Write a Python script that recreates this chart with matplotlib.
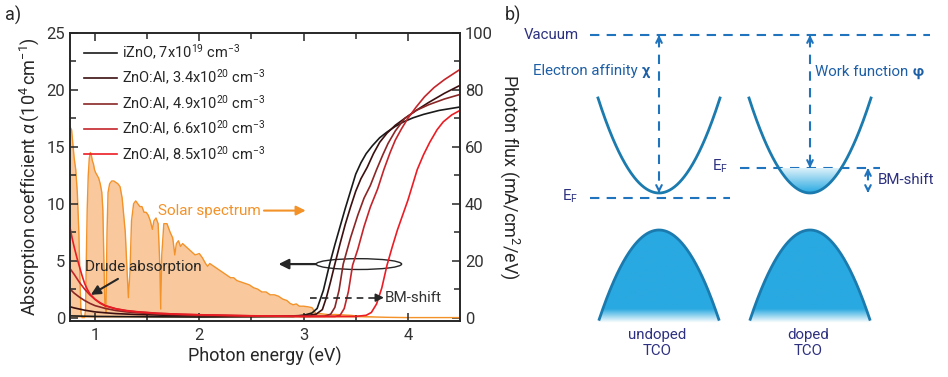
import numpy as np
import matplotlib
matplotlib.use("Agg")
import matplotlib.pyplot as plt
from matplotlib.patches import Ellipse, Polygon
from matplotlib.colors import LinearSegmentedColormap

plt.rcParams['font.family'] = ['Roboto', 'DejaVu Sans']
plt.rcParams['mathtext.fontset'] = 'custom'
plt.rcParams['mathtext.rm'] = 'Roboto'
plt.rcParams['mathtext.it'] = 'Roboto:italic'
plt.rcParams['mathtext.bf'] = 'Roboto:bold'

# ---- solar spectrum (photon flux, mA/cm2/eV) ----
sunE = [0.76, 0.775, 0.79, 0.80, 0.815, 0.83, 0.845, 0.855, 0.865, 0.875, 0.90, 0.91,
        0.915, 0.925, 0.935, 0.945, 0.955, 0.965, 0.975, 0.985, 0.995, 1.005, 1.02,
        1.035, 1.05, 1.065, 1.075, 1.085, 1.095, 1.105, 1.115, 1.125, 1.14, 1.16, 1.18,
        1.20, 1.22, 1.24, 1.26, 1.275, 1.29, 1.305, 1.32, 1.335, 1.35, 1.37, 1.39, 1.41,
        1.43, 1.45, 1.47, 1.49, 1.51, 1.53, 1.55, 1.565, 1.585, 1.605, 1.62, 1.63, 1.64,
        1.66, 1.69, 1.72, 1.745, 1.765, 1.78, 1.80, 1.82, 1.84, 1.87, 1.90, 1.93, 1.96,
        2.0, 2.03, 2.06, 2.08, 2.10, 2.14, 2.18, 2.22, 2.26, 2.30, 2.33, 2.36, 2.40, 2.44,
        2.48, 2.52, 2.56, 2.60, 2.64, 2.68, 2.72, 2.76, 2.80, 2.84, 2.87, 2.90, 2.93,
        2.96, 3.00, 3.04, 3.08, 3.10, 3.12, 3.16, 3.20, 3.25, 3.30, 3.35, 3.40, 3.45,
        3.50, 3.55, 3.60, 3.70, 3.80, 3.90, 4.00, 4.5]
sunF = [67, 66, 60, 56, 52, 44, 30, 14, 2, 0, 0, 3,
        18, 38, 50, 56, 58, 57, 55, 54, 52, 51, 50,
        49, 47, 44, 38, 20, 4, 2, 30, 44, 47, 48, 48,
        47.5, 47, 46, 42, 36, 30, 18, 7, 16, 34, 40, 41, 40,
        39, 39, 37, 37, 36, 34, 31, 34, 35, 33, 20, 3, 22,
        33, 33, 30, 28, 22, 26, 27, 25, 26, 25, 24, 23, 22,
        22.5, 21, 19, 18, 19, 18, 17, 16, 15, 14, 14, 13, 12.5, 12,
        11.5, 10.5, 10, 9, 9, 8, 8, 7.5, 6.5, 6, 5, 4.5, 4.8,
        4, 4, 3.8, 3.5, 2.5, 1.2, 1.4, 1.2, 1.0, 1.1, 1.0, 0.9, 0.8,
        0.6, 0.5, 0.35, 0.2, 0.1, 0.05, 0, 0]

# ---- absorption coefficient (1e4 cm-1) ----
E_izno = [0.76, 1.0, 1.5, 2.0, 2.5, 2.9, 3.0, 3.08, 3.13, 3.19, 3.25, 3.30, 3.35, 3.40,
          3.45, 3.50, 3.55, 3.60, 3.66, 3.73, 3.80, 3.88, 3.96, 4.05, 4.15, 4.3, 4.5]
a_izno = [0.15, 0.1, 0.07, 0.05, 0.07, 0.1, 0.2, 0.4, 0.8, 2.4, 4.7, 6.4, 8.0, 9.6,
          11.1, 12.6, 13.6, 14.4, 15.1, 15.8, 16.3, 16.8, 17.2, 17.55, 17.85, 18.2, 18.5]

E_34 = [0.76, 0.8, 0.85, 0.9, 1.0, 1.1, 1.2, 1.4, 1.7, 2.0, 2.5, 2.9, 3.05, 3.12, 3.18,
        3.22, 3.26, 3.30, 3.35, 3.40, 3.45, 3.50, 3.55, 3.61, 3.67, 3.73, 3.80, 3.88,
        3.97, 4.08, 4.2, 4.35, 4.5]
a_34 = [0.95, 0.85, 0.75, 0.65, 0.5, 0.42, 0.35, 0.27, 0.2, 0.16, 0.13, 0.15, 0.2, 0.3,
        0.7, 1.8, 3.2, 4.7, 6.5, 8.2, 9.7, 11.1, 12.2, 13.2, 14.4, 15.4, 16.2, 16.9,
        17.5, 18.2, 18.9, 19.7, 20.4]

E_49 = [0.76, 0.8, 0.85, 0.9, 0.95, 1.0, 1.1, 1.2, 1.3, 1.4, 1.6, 1.8, 2.0, 2.5, 3.0,
        3.2, 3.26, 3.30, 3.34, 3.38, 3.45, 3.52, 3.58, 3.64, 3.70, 3.76, 3.81, 3.88,
        3.97, 4.08, 4.2, 4.35, 4.5]
a_49 = [2.5, 2.15, 1.8, 1.5, 1.25, 1.05, 0.8, 0.62, 0.5, 0.42, 0.32, 0.25, 0.2, 0.13, 0.1,
        0.12, 0.3, 0.9, 2.4, 4.7, 7.0, 9.0, 10.5, 11.6, 13.0, 14.3, 15.3, 16.4,
        17.5, 18.2, 18.7, 19.2, 19.6]

E_66 = [0.76, 0.8, 0.85, 0.9, 0.95, 1.0, 1.05, 1.1, 1.2, 1.3, 1.4, 1.6, 1.8, 2.0, 2.5,
        3.0, 3.3, 3.35, 3.39, 3.43, 3.47, 3.52, 3.58, 3.64, 3.71, 3.77, 3.83, 3.88, 3.94,
        4.0, 4.08, 4.16, 4.25, 4.35, 4.5]
a_66 = [4.3, 3.8, 3.1, 2.5, 2.0, 1.6, 1.3, 1.05, 0.78, 0.62, 0.52, 0.38, 0.3, 0.25, 0.16,
        0.11, 0.1, 0.2, 0.8, 2.3, 4.6, 6.0, 8.0, 9.7, 11.3, 13.0, 14.5, 15.6, 16.6,
        17.5, 18.5, 19.4, 20.2, 20.9, 21.8]

E_85 = [0.76, 0.78, 0.8, 0.825, 0.85, 0.875, 0.9, 0.925, 0.95, 1.0, 1.05, 1.1, 1.2, 1.3,
        1.4, 1.6, 1.8, 2.0, 2.5, 3.0, 3.5, 3.6, 3.65, 3.70, 3.75, 3.80, 3.85, 3.90, 3.95,
        4.0, 4.05, 4.09, 4.15, 4.21, 4.28, 4.34, 4.42, 4.5]
a_85 = [7.9, 7.0, 6.2, 5.3, 4.5, 3.7, 3.0, 2.5, 2.1, 1.6, 1.25, 1.02, 0.76, 0.6,
        0.5, 0.37, 0.3, 0.24, 0.15, 0.1, 0.1, 0.2, 0.45, 1.2, 2.6, 4.6, 6.2, 7.7, 9.0,
        10.3, 11.8, 13.0, 14.3, 15.4, 16.5, 17.2, 17.8, 18.2]

labels = ['iZnO, 7x10$^{19}$ cm$^{-3}$',
          'ZnO:Al, 3.4x10$^{20}$ cm$^{-3}$',
          'ZnO:Al, 4.9x10$^{20}$ cm$^{-3}$',
          'ZnO:Al, 6.6x10$^{20}$ cm$^{-3}$',
          'ZnO:Al, 8.5x10$^{20}$ cm$^{-3}$']
colors = ['#1a1a1a', '#3c0f10', '#8a2626', '#c4252b', '#ec1c24']
curves = [(E_izno, a_izno), (E_34, a_34), (E_49, a_49), (E_66, a_66), (E_85, a_85)]

orange = '#f39229'
peach = '#f9c99d'
ink = '#262626'

fig = plt.figure(figsize=(9.48, 3.77), dpi=100)

# ================= panel b (diagram, pixel coordinates) =================
bx = fig.add_axes([0, 0, 1, 1], zorder=0)
bx.set_xlim(0, 948)
bx.set_ylim(377, 0)
bx.axis('off')

navy = '#2e3180'
blue_txt = '#1d5fa6'
dash_c = '#1f74bd'
band_c = '#1b7aae'
fill_c = '#29a9e1'
cmap = LinearSegmentedColormap.from_list('band', ['#ffffff', fill_c])
fs_b = 10.8

vac_y = 35
ef_undoped = 198
ef_doped = 168
cb_min = 193
vb_max = 230
vb_bottom = 323
cb_top = 98
centers = [659, 810]
half_w = 61

def dashed(x0, x1, y0, y1):
    bx.plot([x0, x1], [y0, y1], color=dash_c, lw=1.5, dashes=(4.5, 3.5))

def head(x, y_tip, up):
    d = -4 if up else 4
    bx.annotate('', xy=(x, y_tip), xytext=(x, y_tip - d),
                arrowprops=dict(arrowstyle='->', color=dash_c, lw=1.5,
                                mutation_scale=10, shrinkA=0, shrinkB=0))

def dbl_arrow(x, y_top, y_bot):
    dashed(x, x, y_top + 3, y_bot - 3)
    head(x, y_top, True)
    head(x, y_bot, False)

bx.text(505, 15, 'b)', fontsize=13, color=ink, va='center')
bx.text(524, vac_y, 'Vacuum', fontsize=fs_b, color=navy, va='center')
dashed(590, 930, vac_y, vac_y)

# conduction bands
k_cb = (cb_min - cb_top) / half_w ** 2
for xc in centers:
    xs = np.linspace(xc - half_w, xc + half_w, 200)
    bx.plot(xs, cb_min - k_cb * (xs - xc) ** 2, color=band_c, lw=2.0, zorder=4)

# filled states in doped conduction band
xc = centers[1]
w = np.sqrt((cb_min - ef_doped) / k_cb)
xs = np.linspace(xc - w, xc + w, 100)
poly = Polygon(np.column_stack([xs, cb_min - k_cb * (xs - xc) ** 2]),
               closed=True, fc='none', ec='none')
bx.add_patch(poly)
g = np.linspace(0.1, 1.0, 60)[:, None]
im = bx.imshow(g, cmap=cmap, vmin=0, vmax=1, aspect='auto', origin='upper',
               extent=(xc - w, xc + w, cb_min, ef_doped - 2), zorder=3)
im.set_clip_path(poly)

# valence bands
k_vb = (vb_bottom - vb_max) / half_w ** 2
for xc in centers:
    xs = np.linspace(xc - half_w, xc + half_w, 200)
    ys = vb_max + k_vb * (xs - xc) ** 2
    poly = Polygon(np.column_stack([np.r_[xs, xs[-1], xs[0]],
                                    np.r_[ys, vb_bottom, vb_bottom]]),
                   closed=True, fc='none', ec='none')
    bx.add_patch(poly)
    yy = np.linspace(vb_max - 2, vb_bottom, 120)
    g = np.clip((vb_bottom - yy) / 14.0, 0, 1)[:, None]
    im = bx.imshow(g, cmap=cmap, vmin=0, vmax=1, aspect='auto', origin='upper',
                   extent=(xc - half_w, xc + half_w, vb_bottom, vb_max - 2), zorder=3)
    im.set_clip_path(poly)
    m = ys < vb_bottom - 3
    bx.plot(xs[m], ys[m], color=band_c, lw=2.0, zorder=4)

# Fermi levels
dashed(590, 730, ef_undoped, ef_undoped)
bx.text(562, ef_undoped - 2, 'E$_\\mathrm{F}$', fontsize=fs_b, color=navy, va='center')
dashed(740, 880, ef_doped, ef_doped)
bx.text(712, ef_doped - 2, 'E$_\\mathrm{F}$', fontsize=fs_b, color=navy, va='center')

# affinity / work function arrows
dbl_arrow(centers[0], vac_y, cb_min)
dbl_arrow(centers[1], vac_y, ef_doped)
t1 = bx.text(533, 71, 'Electron affinity', fontsize=fs_b, color=blue_txt, va='center')
bx.annotate('χ', xy=(1, 0.5), xycoords=t1, xytext=(3, 0), textcoords='offset points',
            fontsize=fs_b, fontweight='bold', color=blue_txt, va='center', ha='left')
t2 = bx.text(815, 72, 'Work function', fontsize=fs_b, color=blue_txt, va='center')
bx.annotate('φ', xy=(1, 0.5), xycoords=t2, xytext=(3, 0), textcoords='offset points',
            fontsize=fs_b, fontweight='bold', color=blue_txt, va='center', ha='left')

# BM shift
dbl_arrow(868, ef_doped, cb_min)
bx.text(878, 180, 'BM-shift', fontsize=fs_b, color=navy, va='center')

bx.text(centers[0] - 2, 343, 'undoped\nTCO', fontsize=fs_b, color=navy, ha='center',
        va='center', linespacing=1.15)
bx.text(centers[1] - 2, 343, 'doped\nTCO', fontsize=fs_b, color=navy, ha='center',
        va='center', linespacing=1.15)

# ================= panel a =================
ax = fig.add_axes([70 / 948, 56 / 377, 390 / 948, 288 / 377], zorder=2)
tw = ax.twinx()
ax.set_zorder(tw.get_zorder() + 1)
ax.patch.set_visible(False)

tw.fill_between(sunE, sunF, 0, color=peach, lw=0)
tw.plot(sunE, sunF, color=orange, lw=1.0)

for (E, a), c, lab in zip(curves, colors, labels):
    ax.plot(E, a, color=c, lw=1.2, label=lab)

ax.set_xlim(0.76, 4.5)
ax.set_ylim(-0.3, 25)
tw.set_ylim(-1.2, 100)

ax.set_xticks([1, 2, 3, 4])
ax.set_xticks([1.5, 2.5, 3.5], minor=True)
ax.set_yticks([0, 5, 10, 15, 20, 25])
ax.set_yticks([2.5, 7.5, 12.5, 17.5, 22.5], minor=True)
tw.set_yticks([0, 20, 40, 60, 80, 100])
tw.set_yticks([10, 30, 50, 70, 90], minor=True)

for a_ in (ax, tw):
    a_.tick_params(which='both', direction='in', labelsize=12, labelcolor='#333333',
                   color=ink, width=1.1)
    a_.tick_params(which='major', length=6)
    a_.tick_params(which='minor', length=4)
    for s in a_.spines.values():
        s.set_linewidth(1.2)
        s.set_color(ink)
ax.tick_params(axis='x', which='both', top=True, pad=5)
ax.tick_params(axis='y', which='both', right=False)

ax.set_xlabel('Photon energy (eV)', fontsize=13, color=ink, labelpad=3)
ax.set_ylabel('Absorption coefficient $\\alpha\\,$(10$^4\\,$cm$^{-1}$)', fontsize=13,
              color=ink, labelpad=4)
tw.set_ylabel('Photon flux (mA/cm$^2$/eV)', fontsize=13, color=ink, rotation=270,
              va='bottom', labelpad=4)

leg = ax.legend(loc='upper left', bbox_to_anchor=(0.035, 0.967), frameon=False,
                fontsize=10.5, handlelength=2.3, handletextpad=0.35, labelspacing=0.42,
                borderpad=0, borderaxespad=0)
for t in leg.get_texts():
    t.set_color(ink)

# annotations
ax.text(1.6, 9.4, 'Solar spectrum', fontsize=11, color=orange, va='center')
ax.annotate('', xy=(3.02, 9.4), xytext=(2.62, 9.4),
            arrowprops=dict(arrowstyle='-|>', color=orange, lw=1.5, mutation_scale=14,
                            shrinkA=0, shrinkB=0))
ax.text(0.9, 4.4, 'Drude absorption', fontsize=11, color=ink, va='center')
ax.annotate('', xy=(0.96, 2.0), xytext=(1.22, 3.4),
            arrowprops=dict(arrowstyle='-|>', color=ink, lw=1.5, mutation_scale=14,
                            shrinkA=0, shrinkB=0))
ax.add_patch(Ellipse((3.53, 4.7), 0.82, 0.95, fill=False, ec=ink, lw=1.0))
ax.annotate('', xy=(2.76, 4.7), xytext=(3.12, 4.7),
            arrowprops=dict(arrowstyle='-|>', color=ink, lw=1.6, mutation_scale=15,
                            shrinkA=0, shrinkB=0))
ax.plot([3.06, 3.70], [1.75, 1.75], color=ink, lw=1.2, dashes=(4, 3))
ax.annotate('', xy=(3.77, 1.75), xytext=(3.69, 1.75),
            arrowprops=dict(arrowstyle='-|>', color=ink, lw=1.2, mutation_scale=12,
                            shrinkA=0, shrinkB=0))
ax.text(3.78, 1.75, 'BM-shift', fontsize=11, color='#333333', va='center')

fig.text(5 / 948, 1 - 15 / 377, 'a)', fontsize=13, color=ink, va='center')

fig.savefig('out.png', dpi=100)
